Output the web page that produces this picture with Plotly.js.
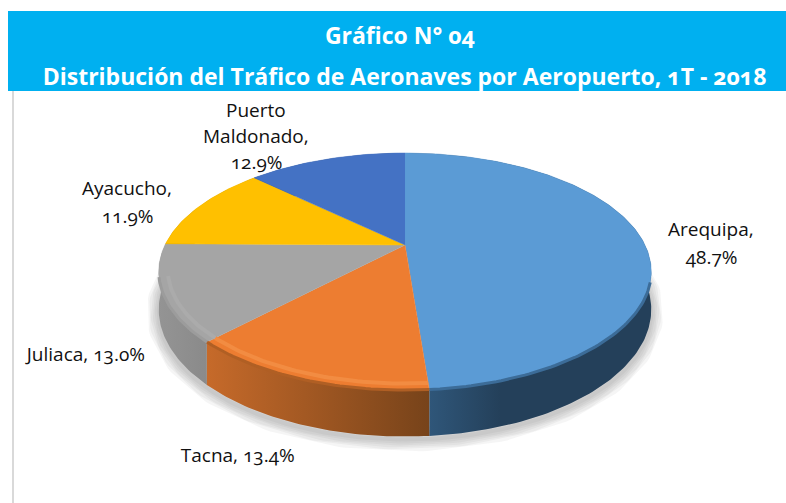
<!DOCTYPE html>
<html>
<head>
<meta charset="utf-8">
<script src="https://cdn.plot.ly/plotly-3.0.1.min.js"></script>
<style>
html,body{margin:0;padding:0;background:#fff;}
#chart{width:786px;height:503px;}
#chart text{font-variant-numeric:oldstyle-nums;font-feature-settings:"onum" 1;}
</style>
</head>
<body>
<div id="chart"></div>
<script>
// ---- data
const airports = ['Arequipa', 'Tacna', 'Juliaca', 'Ayacucho', 'Puerto Maldonado'];
const shares = [48.7, 13.4, 13.0, 11.9, 12.9];
const titleLines = ['Gráfico N° 04', 'Distribución del Tráfico de Aeronaves por Aeropuerto, 1T - 2018'];

// ---- styles
const topColors = ['#5B9BD5', '#ED7D31', '#A5A5A5', '#FFC000', '#4472C4'];
const sideGradients = [
  ['#2F5679', '#24405A'], ['#C66A2A', '#77431A'], ['#949494', '#8A8A8A'],
  ['#A87E00', '#A87E00'], ['#2C4A80', '#2C4A80']
];
const rimColors = ['#3C6C98', '#B05F24', '#9C9C9C', null, null];
const glowColors = [null, '#F28C42', '#ABABAB', null, null];
// each label line: text builder index, centre x, centre y
const labelLayout = [
  {lines: n => [n + ','], pct: true, x: 711, y: [229, 257]},
  {lines: n => [n + ','], pct: false, x: 237, y: [455]},
  {lines: n => [n + ','], pct: false, x: 85, y: [354]},
  {lines: n => [n + ','], pct: true, x: 127, y: [188, 216]},
  {lines: n => ['Puerto', 'Maldonado,'], pct: true, x: 256, y: [110, 136, 162]}
];

// ---- perspective view of the pie's disc
const CX = 405, CY = 245, A = 240, B = 112.6, K = 0.224, DEPTH = 36;
const total = shares.reduce((a, b) => a + b, 0);
function rim(fraction, r, drop) {
  const t = fraction * 2 * Math.PI;
  const u = r * Math.sin(t), v = r * Math.cos(t), d = 1 + K * v;
  return [CX + A * u / d, CY - B * v / d + (drop ? DEPTH / d : 0)];
}
function arc(f0, f1, r, drop) {
  const n = Math.max(2, Math.ceil((f1 - f0) * 360));
  const pts = [];
  for (let i = 0; i <= n; i++) pts.push(rim(f0 + (f1 - f0) * i / n, r, drop));
  return pts;
}
const xs = p => p.map(q => q[0]), ys = p => p.map(q => q[1]);
const base = {type: 'scatter', mode: 'lines', hoverinfo: 'skip', showlegend: false};

let cum = 0;
const ranges = shares.map(s => { const r = [cum / total, (cum + s) / total]; cum += s; return r; });

const traces = [];
// soft shadow under the pie
[24, 20, 16, 12, 8, 4].forEach(w => {
  const p = arc(0.22, 0.78, 1, true).map(q => [q[0], q[1] + 3]);
  traces.push({...base, x: xs(p), y: ys(p), line: {color: 'rgba(90,90,90,0.06)', width: w}});
});
// sides: back slices first so that the front ones sit on top
[3, 4, 0, 2, 1].forEach(i => {
  const [f0, f1] = ranges[i];
  const top = arc(f0, f1, 1, false), bot = arc(f0, f1, 1, true).reverse();
  const poly = top.concat(bot);
  const frontX = xs(top);
  const lo = i === 0 ? 430 : Math.min(...frontX), hi = i === 0 ? 500 : Math.max(...frontX);
  traces.push({...base, x: xs(poly), y: ys(poly), fill: 'toself', line: {width: 0},
    fillgradient: {type: 'horizontal', start: lo, stop: hi,
      colorscale: [[0, sideGradients[i][0]], [1, sideGradients[i][1]]]}});
});
// top faces
shares.forEach((s, i) => {
  const [f0, f1] = ranges[i];
  const poly = [[CX, CY]].concat(arc(f0, f1, 1, false));
  traces.push({...base, x: xs(poly), y: ys(poly), fill: 'toself', fillcolor: topColors[i],
    line: {width: 0.5, color: topColors[i]}});
});
// bevel on the front edge
shares.forEach((s, i) => {
  const f0 = i === 0 ? 0.3 : ranges[i][0], f1 = i === 2 ? ranges[i][1] - 0.045 : ranges[i][1];
  if (rimColors[i]) {
    const p = arc(f0, f1, 1, false);
    traces.push({...base, x: xs(p), y: ys(p), line: {color: rimColors[i], width: 3}});
  }
  if (glowColors[i]) {
    const p = arc(f0, f1, 0.965, false);
    traces.push({...base, x: xs(p), y: ys(p), line: {color: glowColors[i], width: 4}});
  }
});

// labels
const labelFont = {family: '"Open Sans", sans-serif', size: 19, color: '#111111'};
const annotations = [];
airports.forEach((name, i) => {
  const L = labelLayout[i];
  const pctText = shares[i].toFixed(1) + '%';
  const lines = L.pct ? L.lines(name).concat([pctText]) : [L.lines(name)[0] + ' ' + pctText];
  lines.forEach((t, j) => annotations.push({x: L.x, y: L.y[j], text: t, showarrow: false,
    xref: 'x', yref: 'y', xanchor: 'center', yanchor: 'middle', font: labelFont}));
});
const titleFont = {family: '"Open Sans", sans-serif', size: 23, color: '#FFFFFF'};
annotations.push({x: 400, y: 35, text: '<b>' + titleLines[0] + '</b>', showarrow: false, xref: 'x', yref: 'y', font: titleFont});
annotations.push({x: 404.5, y: 76, text: '<b>' + titleLines[1] + '</b>', showarrow: false, xref: 'x', yref: 'y', font: titleFont});

const layout = {
  width: 786, height: 503,
  margin: {l: 0, r: 0, t: 0, b: 0},
  paper_bgcolor: '#FFFFFF', plot_bgcolor: '#FFFFFF',
  xaxis: {range: [0, 786], visible: false, fixedrange: true},
  yaxis: {range: [503, 0], visible: false, fixedrange: true},
  shapes: [
    {type: 'rect', xref: 'x', yref: 'y', x0: 8, x1: 786, y0: 11, y1: 91, fillcolor: '#00B0F0', line: {width: 0}, layer: 'below'},
    {type: 'line', xref: 'x', yref: 'y', x0: 13, x1: 13, y0: 91, y1: 503, line: {color: '#D9D9D9', width: 2}, layer: 'below'}
  ],
  annotations
};
Plotly.newPlot('chart', traces, layout, {displayModeBar: false, staticPlot: true});
</script>
</body>
</html>
